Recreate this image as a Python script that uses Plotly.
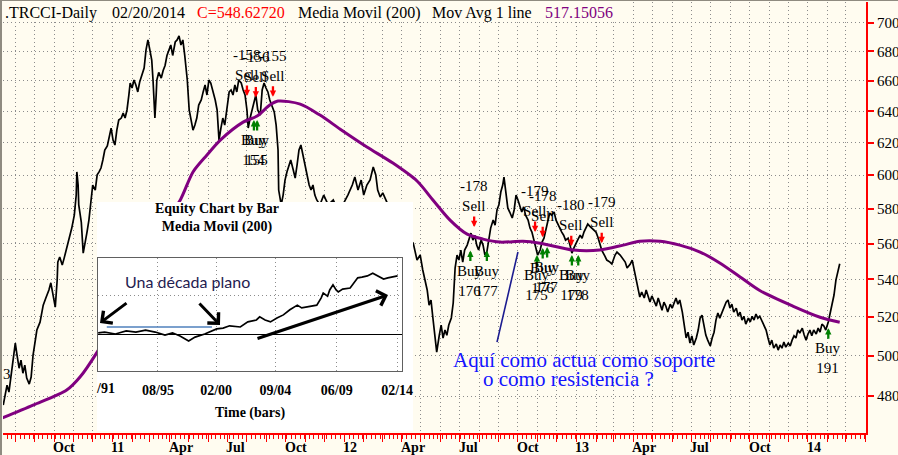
import numpy as np
import pandas as pd
import plotly.graph_objects as go

BASE = pd.Timestamp("2010-10-01")   # day 0 for the day counts below

# ---------------- data ----------------
price_days = [
    -80, -77, -74, -71, -68, -65, -61, -58, -55, -52,
    -49, -46, -43, -39, -36, -33, -30, -27, -22, -17,
    -13, -8, -5, -2, 2, 5, 6, 9, 13, 16,
    19, 22, 25, 28, 32, 35, 36, 38, 39, 43,
    46, 49, 52, 55, 58, 61, 65, 68, 71, 74,
    77, 80, 84, 87, 90, 93, 96, 99, 102, 106,
    109, 112, 115, 118, 120, 123, 126, 129, 132, 135,
    139, 142, 145, 148, 151, 154, 156, 159, 161, 162,
    165, 169, 172, 175, 178, 181, 184, 187, 191, 194,
    197, 200, 203, 206, 210, 213, 216, 219, 222, 225,
    228, 232, 235, 238, 241, 244, 247, 251, 254, 257,
    260, 263, 266, 269, 273, 276, 279, 282, 285, 288,
    291, 295, 298, 301, 304, 306, 309, 312, 315, 318,
    321, 325, 328, 331, 334, 337, 340, 343, 347, 350,
    353, 354, 358, 361, 364, 367, 370, 373, 377, 380,
    383, 386, 389, 392, 395, 399, 402, 405, 408, 411,
    414, 419, 425, 432, 440, 447, 455, 463, 470, 474,
    479, 484, 488, 493, 498, 503, 507, 510, 514, 518,
    523, 529, 537, 545, 553, 561, 566, 572, 577, 581,
    585, 588, 591, 594, 597, 600, 603, 607, 610, 613,
    616, 619, 622, 626, 629, 632, 635, 638, 641, 644,
    647, 651, 654, 657, 660, 663, 666, 669, 673, 676,
    679, 682, 685, 688, 692, 695, 698, 701, 704, 707,
    709, 712, 715, 718, 722, 725, 728, 731, 734, 737,
    740, 743, 747, 750, 753, 756, 759, 762, 766, 769,
    772, 775, 778, 781, 784, 788, 791, 794, 797, 800,
    803, 806, 810, 813, 816, 819, 822, 825, 829, 832,
    835, 838, 841, 844, 847, 851, 854, 857, 860, 863,
    868, 871, 876, 879, 884, 887, 892, 895, 900, 903,
    908, 911, 914, 919, 923, 926, 930, 933, 936, 939,
    942, 945, 949, 952, 955, 958, 961, 964, 967, 971,
    974, 977, 980, 983, 986, 990, 993, 996, 999, 1002,
    1005, 1008, 1012, 1015, 1018, 1021, 1024, 1027, 1030, 1034,
    1037, 1040, 1043, 1046, 1049, 1053, 1056, 1059, 1062, 1065,
    1068, 1071, 1075, 1078, 1081, 1084, 1087, 1090, 1094, 1097,
    1100, 1103, 1106, 1109, 1112, 1116, 1119, 1122, 1125, 1128,
    1131, 1134, 1138, 1141, 1144, 1147, 1150, 1153, 1157, 1160,
    1163, 1166, 1169, 1172, 1175, 1179, 1182, 1185, 1188, 1191,
    1194, 1197, 1201, 1204, 1207, 1210, 1213, 1216, 1220, 1223,
    1226, 1229, 1232, 1238,
]
price_close = [
    475.6, 480.4, 485.3, 481.9, 488.8, 496.7, 506.4, 499.8, 493.7, 497.7,
    491.2, 495.2, 488.8, 485.8, 489.3, 500.3, 507.9, 513.1, 517.2, 526.2,
    529.9, 534.3, 538.2, 533.2, 525.1, 539.7, 549.6, 552.4, 547.9, 551.8,
    556.3, 559.1, 563.6, 568.8, 576.3, 588.1, 602.0, 594.1, 582.3, 572.3,
    554.6, 561.9, 566.5, 573.4, 585.2, 594.1, 591.1, 600.2, 602.0, 604.4,
    609.3, 615.5, 618.0, 623.0, 629.3, 621.7, 618.6, 628.0, 634.4, 635.7,
    638.9, 635.7, 640.9, 650.7, 658.6, 655.3, 660.6, 657.3, 652.7, 659.3,
    663.9, 668.6, 681.0, 687.9, 681.0, 674.0, 660.6, 635.7, 650.7, 660.6,
    665.7, 661.9, 667.0, 670.4, 677.2, 681.0, 684.4, 677.2, 686.5, 687.9,
    690.7, 684.4, 687.9, 677.2, 660.6, 640.9, 634.4, 628.0, 631.2, 635.7,
    644.1, 647.4, 652.7, 657.3, 650.7, 660.6, 658.6, 652.7, 647.4, 640.9,
    621.7, 629.3, 635.7, 631.2, 642.2, 652.7, 654.0, 650.7, 657.3, 652.7,
    660.6, 658.6, 654.0, 650.7, 640.9, 629.3, 635.7, 640.9, 647.4, 650.7,
    640.9, 637.6, 654.0, 658.6, 655.3, 652.7, 647.4, 644.1, 639.6, 631.2,
    615.5, 591.1, 582.3, 588.1, 597.1, 602.0, 606.3, 609.3, 603.2, 598.3,
    606.3, 615.5, 618.6, 612.4, 608.1, 600.2, 594.1, 591.1, 594.1, 588.1,
    585.2, 582.3, 588.1, 582.3, 585.2, 579.3, 582.3, 588.1, 594.1, 598.9,
    591.1, 597.1, 588.1, 594.1, 597.1, 605.0, 600.2, 591.1, 586.9, 589.4,
    585.2, 579.3, 573.4, 568.8, 566.5, 561.9, 560.2, 550.7, 553.5, 545.2,
    539.7, 534.3, 526.2, 528.9, 519.4, 509.5, 501.8, 510.4, 515.7, 508.9,
    513.1, 510.4, 515.7, 519.4, 527.3, 546.3, 553.5, 550.7, 556.3, 549.6,
    556.3, 559.1, 563.0, 565.9, 561.9, 564.7, 559.1, 556.3, 561.9, 559.1,
    553.5, 555.2, 561.9, 568.8, 573.4, 570.5, 579.3, 582.3, 589.9, 594.1,
    598.9, 588.1, 580.5, 578.1, 574.6, 579.3, 588.1, 585.2, 581.1, 578.1,
    581.1, 576.3, 573.4, 568.8, 566.5, 561.9, 556.3, 553.5, 556.3, 560.8,
    563.0, 567.6, 572.3, 577.5, 576.3, 578.1, 573.4, 570.5, 568.8, 566.5,
    564.7, 561.9, 563.0, 559.1, 554.6, 557.4, 560.2, 561.9, 564.7, 563.0,
    566.5, 568.8, 571.1, 569.9, 568.8, 567.6, 566.5, 563.6, 560.2, 556.3,
    552.9, 550.7, 549.6, 548.5, 553.5, 555.2, 553.5, 551.8, 549.6, 546.3,
    548.5, 550.7, 545.2, 538.1, 530.5, 533.2, 530.0, 534.3, 531.1, 527.8,
    531.1, 528.9, 525.7, 530.0, 526.7, 523.5, 527.8, 525.7, 522.5, 526.7,
    524.6, 527.8, 530.0, 526.7, 528.9, 522.5, 515.7, 509.0, 512.0, 506.4,
    510.1, 505.4, 509.0, 513.1, 519.3, 520.9, 515.7, 510.5, 507.9, 504.9,
    509.0, 512.0, 518.3, 522.0, 519.3, 522.5, 524.6, 527.8, 528.9, 524.6,
    526.7, 522.5, 524.6, 520.3, 522.5, 518.3, 520.3, 516.2, 519.3, 517.3,
    520.3, 518.3, 521.5, 519.3, 520.3, 517.3, 515.2, 513.1, 509.0, 505.4,
    507.9, 503.8, 505.9, 502.8, 505.4, 503.8, 506.9, 504.3, 506.4, 504.9,
    507.9, 510.1, 509.0, 513.1, 511.5, 514.1, 510.5, 507.9, 511.0, 513.1,
    510.1, 513.1, 511.0, 514.1, 512.0, 516.2, 515.2, 513.1, 517.3, 522.5,
    527.3, 531.6, 539.7, 548.6272,
]
ma_days = [-82, -33, 20, 41, 68, 88, 120, 151, 175, 199, 219, 241, 262, 298,
           320, 340, 353, 388, 419, 451, 493, 534, 572, 597, 624, 651, 676,
           703, 739, 766, 818, 860, 897, 923, 955, 986, 1018, 1049, 1081,
           1112, 1164, 1207, 1238]
ma_vals = [469.4, 475.6, 482.9, 489.3, 501.8, 513.1, 534.3, 556.3, 572.3,
           585.2, 602.0, 612.4, 621.7, 633.1, 637.0, 644.1, 646.7, 644.7,
           637.6, 628.6, 617.4, 607.4, 596.5, 585.2, 573.4, 565.3, 562.5,
           560.8, 561.3, 560.2, 556.3, 556.3, 559.1, 561.3, 561.3, 559.1,
           555.2, 549.1, 541.4, 534.0, 525.7, 519.8, 517.15056]
last_close = 548.62720
ma_last = 517.15056

sell_days = [304, 318, 345, 662, 758, 770, 815, 863]
sell_high = [650.0, 649.0, 649.5, 569.4, 566.5, 563.6, 558.5, 560.2]
sell_labels = ["-158", "-156", "-155", "-178", "-179", "-178", "-180", "-179"]
buy_days = [315, 320, 656, 682, 761, 770, 777, 816, 826, 1220]
buy_low = [634.4, 634.4, 556.0, 556.0, 553.5, 557.4, 558.0, 553.5, 553.5, 514.1]
buy_labels = ["154", "155", "176", "177", "175", "176", "177", "179", "178", "191"]

month_dates = ["2010-10-01", "2011-01-01", "2011-04-01", "2011-07-01", "2011-10-01",
               "2012-01-01", "2012-04-01", "2012-07-01", "2012-10-01", "2013-01-01",
               "2013-04-01", "2013-07-01", "2013-10-01", "2014-01-01"]
month_labels = ["Oct", "11", "Apr", "Jul", "Oct", "12", "Apr", "Jul", "Oct", "13",
                "Apr", "Jul", "Oct", "14"]
price_ticks = [480, 500, 520, 540, 560, 580, 600, 620, 640, 660, 680, 700]

equity_dates = ["1990-12-15", "1991-06-15", "1992-04-15", "1993-02-15", "1993-11-15",
                "1994-08-15", "1995-05-15", "1996-02-15", "1996-09-15", "1997-04-15",
                "1997-12-15", "1998-06-15", "1999-03-15", "1999-10-15", "2000-02-15",
                "2000-08-15", "2001-02-15", "2001-12-15", "2002-07-15", "2003-03-15",
                "2003-06-15", "2003-11-15", "2004-04-15", "2004-10-15", "2005-04-15",
                "2005-10-15", "2006-05-15", "2006-09-15", "2007-02-15", "2007-07-15",
                "2007-11-15", "2008-03-15", "2008-05-15", "2008-09-15", "2008-11-15",
                "2009-02-15", "2009-05-15", "2009-07-15", "2009-11-15", "2010-06-15",
                "2010-10-15", "2011-01-15", "2011-05-15", "2011-10-15", "2012-03-15",
                "2012-08-15", "2013-01-15", "2013-05-15", "2013-10-15", "2014-02-15"]
equity_vals = [3, 5, 0, 8, 5, 10, 5, -3, 3, -5,
               -18, -8, 0, 8, 13, 15, 21, 18, 31, 36,
               44, 36, 31, 41, 49, 62, 74, 67, 69, 72,
               74, 92, 105, 97, 113, 126, 113, 108, 115, 118,
               133, 144, 146, 149, 156, 149, 141, 144, 146, 149]
equity_tick_dates = ["1995-08-01", "2000-02-01", "2004-09-01", "2009-06-01", "2014-02-01"]
equity_tick_text = ["08/95", "02/00", "09/04", "06/09", "02/14"]

# ---------------- layout helpers ----------------
W, H = 898, 455
ML, MR, MT, MB = 3, 32, 2, 22
PW, PH = W - ML - MR, H - MT - MB
CREAM = "#FFFCF0"
SERIF = "Liberation Serif"
GRID = "#8c8c8c"


def px_x(px):
    return (px - ML) / PW


def px_y(py):
    return 1 - (py - MT) / PH


def to_dates(days):
    return BASE + pd.to_timedelta(days, unit="D")


x_left = BASE + pd.Timedelta(days=-80.36)
x_right = BASE + pd.Timedelta(days=1279.4)

fig = go.Figure()
fig.add_trace(go.Scatter(x=to_dates(price_days), y=price_close, mode="lines",
                         line=dict(color="black", width=1.7), hoverinfo="skip"))
fig.add_trace(go.Scatter(x=to_dates(ma_days), y=ma_vals, mode="lines",
                         line=dict(color="#800080", width=3, shape="spline", smoothing=0.8),
                         hoverinfo="skip"))
# inset (white panel) and its equity curve
fig.add_trace(go.Scatter(x=[None], y=[None], xaxis="x2", yaxis="y2", mode="lines"))
fig.add_trace(go.Scatter(x=equity_dates, y=equity_vals, xaxis="x3", yaxis="y3", mode="lines",
                         line=dict(color="black", width=1.7), hoverinfo="skip"))

fig.update_layout(
    template="none",
    width=W, height=H, autosize=False,
    margin=dict(l=ML, r=MR, t=MT, b=MB, pad=0),
    paper_bgcolor=CREAM, plot_bgcolor=CREAM,
    showlegend=False, hovermode=False,
    xaxis=dict(type="date", range=[x_left, x_right], domain=[0, 1], anchor="y",
               showgrid=True, gridcolor=GRID, griddash="1px,3px", gridwidth=1,
               tick0="2010-08-01", dtick="M1", ticks="outside", ticklen=7,
               tickcolor="#FF0000", tickwidth=1, showticklabels=False,
               showline=True, linecolor="#FF0000", linewidth=2, zeroline=False,
               minor=dict(dtick=7 * 86400000, tick0="2010-07-12", ticks="outside",
                          ticklen=4, tickcolor="#FF0000", tickwidth=1, showgrid=False)),
    yaxis=dict(type="log", range=[np.log10(462.4), np.log10(714.8)], side="right",
               anchor="x", domain=[0, 1], automargin=False,
               tickmode="array", tickvals=price_ticks, ticktext=[str(v) for v in price_ticks],
               ticks="outside", ticklen=6, tickcolor="#FF0000", tickwidth=1.5,
               showline=True, linecolor="#FF0000", linewidth=2,
               showgrid=True, gridcolor=GRID, griddash="1px,3px", gridwidth=1,
               zeroline=False, tickfont=dict(family=SERIF, size=15, color="black")),
    xaxis2=dict(domain=[px_x(97), px_x(413)], range=[0, 1], anchor="y2", visible=False),
    yaxis2=dict(domain=[px_y(431), px_y(202)], range=[0, 1], anchor="x2", visible=False),
    xaxis3=dict(type="date", domain=[px_x(98), px_x(402)], range=["1990-12-10", "2014-06-20"],
                anchor="y3", showline=True, mirror=True, linecolor="#606060", linewidth=1,
                showgrid=True, gridcolor=GRID, griddash="1px,3px",
                tickmode="array", tickvals=equity_tick_dates, ticktext=equity_tick_text,
                ticks="", ticklabelstandoff=6, zeroline=False,
                tickfont=dict(family=SERIF, size=14, color="black", weight="bold")),
    yaxis3=dict(domain=[px_y(371), px_y(258)], range=[-94.9, 194.9], anchor="x3",
                showline=True, mirror=True, linecolor="#606060", linewidth=1,
                showgrid=True, gridcolor=GRID, griddash="1px,3px",
                tickmode="array", tickvals=[100], showticklabels=False, ticks="",
                zeroline=True, zerolinecolor="black", zerolinewidth=1.3),
)

shapes = []
# header band hides the vertical grid behind the title text
shapes.append(dict(type="rect", xref="x", yref="y", x0=x_left, x1=BASE + pd.Timedelta(days=900),
                   y0=701.2, y1=730, fillcolor=CREAM, line=dict(width=0), layer="above"))
# window border (left + top)
shapes.append(dict(type="line", xref="paper", yref="paper", x0=px_x(1), x1=px_x(1),
                   y0=px_y(H), y1=px_y(0), line=dict(color="#8f8b80", width=2)))
shapes.append(dict(type="line", xref="paper", yref="paper", x0=px_x(0), x1=px_x(W),
                   y0=px_y(0.5), y1=px_y(0.5), line=dict(color="#8f8b80", width=1)))
# white inset panels
shapes.append(dict(type="rect", xref="x2", yref="y2", x0=0, x1=1, y0=0, y1=1,
                   fillcolor="white", line=dict(width=0), layer="below"))
shapes.append(dict(type="rect", xref="x3", yref="y3", x0="1980-01-01", x1="2020-01-01",
                   y0=-500, y1=500, fillcolor="white", line=dict(width=0), layer="below"))
# blue "flat decade" level in the inset
shapes.append(dict(type="line", xref="x3", yref="y3", x0="1991-08-15", x1="1999-10-05",
                   y0=18, y1=18, line=dict(color="#4F81BD", width=1.5), layer="above"))
# navy pointer line on main chart
shapes.append(dict(type="line", xref="x", yref="y", x0=BASE + pd.Timedelta(days=698), y0=506.9,
                   x1=BASE + pd.Timedelta(days=731), y1=555.2,
                   line=dict(color="#1B1B8F", width=1.6), layer="above"))

ann = []
# header
header = [(5, ".TRCCI-Daily", "black"), (112, "02/20/2014", "black"),
          (197, f"C={last_close:.5f}", "#FF0000"), (298, "Media Movil (200)", "black"),
          (432, "Mov Avg 1 line", "black"), (545, f"{ma_last:.5f}", "#800080")]
for px, txt, col in header:
    ann.append(dict(xref="paper", yref="paper", x=px_x(px), y=px_y(13), text=txt,
                    showarrow=False, xanchor="left", yanchor="middle", xshift=-2,
                    font=dict(family=SERIF, size=16, color=col)))
# month labels
for d, lbl in zip(month_dates, month_labels):
    ann.append(dict(xref="x", yref="paper", x=d, y=px_y(447), text=lbl, showarrow=False,
                    xanchor="left", yanchor="middle", xshift=-3,
                    font=dict(family=SERIF, size=14, color="black", weight="bold")))
# clipped label fragment at the left edge
ann.append(dict(xref="paper", yref="paper", x=px_x(3), y=px_y(374), text="3",
                showarrow=False, xanchor="left", yanchor="middle", xshift=-2,
                font=dict(family=SERIF, size=15, color="black")))
# sell signals
for d, p, lbl in zip(sell_days, sell_high, sell_labels):
    x = BASE + pd.Timedelta(days=d)
    ann.append(dict(xref="x", yref="y", x=x, y=np.log10(p), text="", showarrow=True,
                    ax=0, ay=-12, arrowhead=2, arrowsize=0.55, arrowwidth=2.3,
                    arrowcolor="#FF0000", standoff=0))
    ann.append(dict(xref="x", yref="y", x=x, y=np.log10(p), text=f"{lbl}<br>Sell",
                    showarrow=False, yanchor="bottom", yshift=11,
                    font=dict(family=SERIF, size=15, color="black")))
# buy signals
for d, p, lbl in zip(buy_days, buy_low, buy_labels):
    x = BASE + pd.Timedelta(days=d)
    ann.append(dict(xref="x", yref="y", x=x, y=np.log10(p), text="", showarrow=True,
                    ax=0, ay=12, arrowhead=2, arrowsize=0.55, arrowwidth=2.3,
                    arrowcolor="#008000", standoff=0))
    ann.append(dict(xref="x", yref="y", x=x, y=np.log10(p), text=f"Buy<br>{lbl}",
                    showarrow=False, yanchor="top", yshift=-10,
                    font=dict(family=SERIF, size=15, color="black")))
# blue question
ann.append(dict(xref="paper", yref="paper", x=px_x(453), y=px_y(360), xshift=-2,
                text="Aquí como actua como soporte", showarrow=False, xanchor="left",
                yanchor="middle", font=dict(family=SERIF, size=21, color="#1414FF")))
ann.append(dict(xref="paper", yref="paper", x=px_x(483), y=px_y(379), xshift=-2,
                text="o como resistencia ?", showarrow=False, xanchor="left",
                yanchor="middle", font=dict(family=SERIF, size=21, color="#1414FF")))
# inset texts
ann.append(dict(xref="paper", yref="paper", x=px_x(217), y=px_y(218.5),
                text="Equity Chart by Bar<br>Media Movil (200)", showarrow=False,
                xanchor="center", yanchor="middle",
                font=dict(family=SERIF, size=14, color="black", weight="bold")))
ann.append(dict(xref="paper", yref="paper", x=px_x(105), y=px_y(388), text="/91",
                showarrow=False, xanchor="center", yanchor="middle",
                font=dict(family=SERIF, size=14, color="black", weight="bold")))
ann.append(dict(xref="paper", yref="paper", x=px_x(250), y=px_y(413), text="Time (bars)",
                showarrow=False, xanchor="center", yanchor="middle",
                font=dict(family=SERIF, size=14, color="black", weight="bold")))
ann.append(dict(xref="paper", yref="paper", x=px_x(187), y=px_y(281), text="Una década plano",
                showarrow=False, xanchor="center", yanchor="middle",
                font=dict(family="Lato", size=16, color="#1F2050")))
for hx, hy, axp, ayp in [(100, 323, 28, -21), (220, 325, -22, -23), (388, 295, -132, 44)]:
    ann.append(dict(xref="paper", yref="paper", x=px_x(hx), y=px_y(hy), text="",
                    showarrow=True, ax=axp, ay=ayp, arrowhead=4, arrowsize=1,
                    arrowwidth=3, arrowcolor="black", standoff=0))

fig.update_layout(shapes=shapes, annotations=ann)
fig.write_html("out.html")
